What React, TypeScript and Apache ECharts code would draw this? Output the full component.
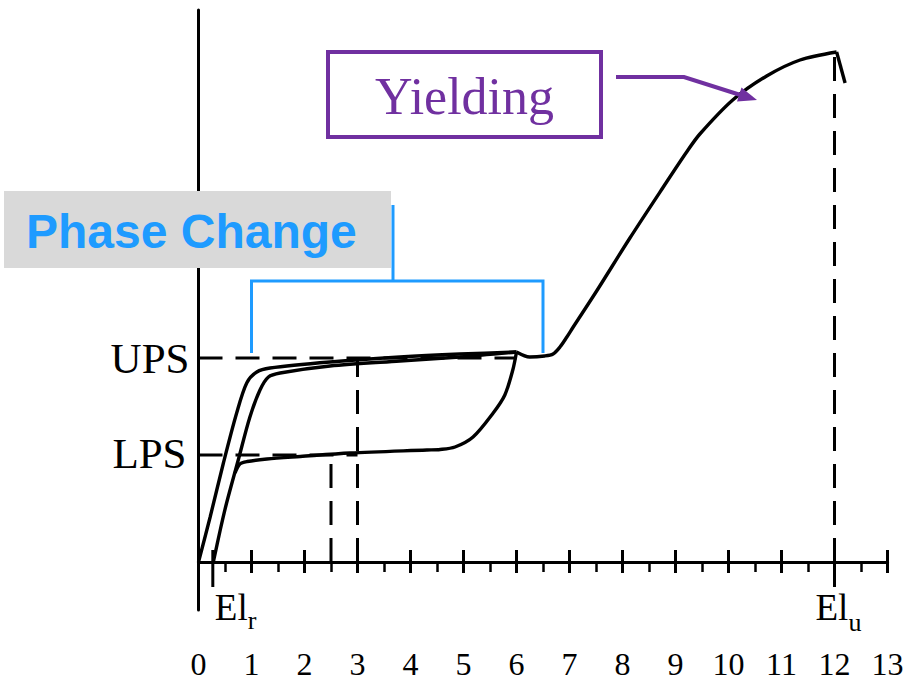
import React, { useEffect, useRef } from "react";
import * as echarts from "echarts";

// strain axis ticks (%)
const xTickValues = [0, 1, 2, 3, 4, 5, 6, 7, 8, 9, 10, 11, 12, 13];

// stress levels (arbitrary units)
const UPS = 204;
const LPS = 107;
const EL_R = 0.27;
const EL_U = 12;
const PEAK = 510;

// first loading from the origin
const firstLoading: [number, number][] = [
  [0, 0], [0.22, 45], [0.47, 99], [0.72, 149], [0.91, 179], [1.1, 190],
  [1.35, 194], [2.48, 200], [3.8, 205], [4.93, 208], [6.0, 210],
];
// reloading from the residual elongation
const secondLoading: [number, number][] = [
  [0.28, 0], [0.41, 32], [0.53, 59], [0.75, 102], [0.97, 145], [1.16, 172],
  [1.32, 185], [1.54, 189], [2.48, 196], [3.8, 201], [4.93, 205], [6.0, 210],
];
// unloading branch (lower plateau)
const unloading: [number, number][] = [
  [6.0, 210], [5.93, 192], [5.78, 167], [5.56, 149], [5.18, 125], [4.84, 115],
  [4.56, 112.5], [4.31, 112], [2.86, 109], [1.92, 105.5], [1.29, 103],
  [0.92, 100.5], [0.78, 98], [0.69, 89],
];
// martensite elastic + yielding up to rupture
const hardening: [number, number][] = [
  [6.0, 210], [6.25, 205], [6.53, 206], [6.69, 208], [6.82, 215], [6.95, 225],
  [7.07, 235], [7.5, 270], [8.14, 324], [8.77, 375], [9.21, 410], [9.46, 428],
  [10.08, 462], [10.72, 486], [11.35, 502], [12.04, PEAK],
];
const fracture: [number, number][] = [[12.04, PEAK], [12.2, 479]];

const SERIF = "'Liberation Serif', 'Times New Roman', serif";
const SANS = "'Liberation Sans', Arial, sans-serif";
const BLUE = "#1E9BFF";
const PURPLE = "#7030A0";

export default function App() {
  const ref = useRef<HTMLDivElement>(null);

  useEffect(() => {
    if (!ref.current) return;
    const chart = echarts.init(ref.current, undefined, { renderer: "svg" });

    const curve = (data: [number, number][], smooth: number | boolean = 0.3) => ({
      type: "line",
      data,
      smooth,
      symbol: "none",
      silent: true,
      xAxisIndex: 0,
      yAxisIndex: 0,
      lineStyle: { color: "#000", width: 3.4 },
      z: 3,
    });
    const dashed = (data: [number, number][]) => ({
      type: "line",
      data,
      symbol: "none",
      silent: true,
      xAxisIndex: 0,
      yAxisIndex: 0,
      lineStyle: { color: "#000", width: 3, type: [24, 13] },
      z: 2,
    });
    const solid = (data: [number, number][]) => ({
      type: "line",
      data,
      symbol: "none",
      silent: true,
      xAxisIndex: 0,
      yAxisIndex: 0,
      lineStyle: { color: "#000", width: 3 },
      z: 2,
    });

    chart.setOption({
      animation: false,
      backgroundColor: "#fff",
      grid: { left: 198.5, right: 19.5, top: 10, bottom: 72, containLabel: false, outerBoundsMode: "none" },
      xAxis: [
        {
          type: "value",
          min: 0,
          max: 13,
          interval: 1,
          axisLine: { onZero: true, lineStyle: { color: "#000", width: 3 } },
          axisTick: { show: true, length: 11, lineStyle: { color: "#000", width: 3 } },
          minorTick: { show: true, splitNumber: 2, length: 10, lineStyle: { color: "#000", width: 2.5 } },
          splitLine: { show: false },
          axisLabel: {
            show: true,
            margin: 38,
            color: "#000",
            fontFamily: SERIF,
            fontSize: 32,
            formatter: (v: number) => (xTickValues.includes(v) ? String(v) : ""),
          },
        },
        {
          type: "value",
          min: 0,
          max: 13,
          interval: 1,
          position: "bottom",
          axisLine: { show: false, onZero: true, onZeroAxisIndex: 1 },
          axisTick: { show: true, inside: true, length: 12, lineStyle: { color: "#000", width: 3 } },
          splitLine: { show: false },
          axisLabel: { show: false },
        },
      ],
      yAxis: [
        {
          type: "value",
          min: -48,
          max: 552,
          axisLine: { show: true, onZero: true, lineStyle: { color: "#000", width: 3 } },
          axisTick: { show: false },
          axisLabel: { show: false },
          splitLine: { show: false },
        },
        {
          type: "value",
          min: -48,
          max: 552,
          show: false,
          axisLine: { onZero: false },
          splitLine: { show: false },
        },
      ],
      series: [
        dashed([[0, UPS], [6, UPS]]),
        dashed([[0, LPS], [3, LPS]]),
        dashed([[3, 0], [3, 202]]),
        dashed([[2.5, 0], [2.5, LPS]]),
        dashed([[EL_U, 0], [EL_U, PEAK]]),
        solid([[EL_R, -25], [EL_R, 12]]),
        solid([[EL_U, -25], [EL_U, 0]]),
        curve(firstLoading),
        curve(secondLoading),
        curve(unloading),
        curve(hardening),
        curve(fracture, false),
      ],
    });

    const px = (v: number) => chart.convertToPixel({ xAxisIndex: 0 }, v) as number;
    const py = (v: number) => chart.convertToPixel({ yAxisIndex: 0 }, v) as number;

    const x0 = px(0);
    const elSize = 37;
    const subSize = 26;
    const elW = 0.889 * elSize;
    const xr = px(EL_R) + 2;
    const xu = px(EL_U) - 19;

    chart.setOption({
      graphic: [
        { type: "text", z: 50, x: x0 - 9, y: py(UPS), style: { text: "UPS", font: `43px ${SERIF}`, fill: "#000", align: "right", verticalAlign: "middle" } },
        { type: "text", z: 50, x: x0 - 12, y: py(LPS) - 2, style: { text: "LPS", font: `43px ${SERIF}`, fill: "#000", align: "right", verticalAlign: "middle" } },
        { type: "text", z: 50, x: xr, y: 607, style: { text: "El", font: `${elSize}px ${SERIF}`, fill: "#000", align: "left", verticalAlign: "middle" } },
        { type: "text", z: 50, x: xr + elW, y: 620, style: { text: "r", font: `${subSize}px ${SERIF}`, fill: "#000", align: "left", verticalAlign: "middle" } },
        { type: "text", z: 50, x: xu, y: 607, style: { text: "El", font: `${elSize}px ${SERIF}`, fill: "#000", align: "left", verticalAlign: "middle" } },
        { type: "text", z: 50, x: xu + elW, y: 622, style: { text: "u", font: `${subSize}px ${SERIF}`, fill: "#000", align: "left", verticalAlign: "middle" } },
        // Phase Change label
        { type: "rect", z: 60, shape: { x: 4, y: 191, width: 387, height: 77 }, style: { fill: "#D9D9D9" } },
        { type: "text", z: 61, x: 26, y: 231, style: { text: "Phase Change", font: `bold 48px ${SANS}`, fill: BLUE, align: "left", verticalAlign: "middle" } },
        { type: "polyline", z: 60, shape: { points: [[px(1), py(209)], [px(1), 281], [px(6.5), 281], [px(6.5), py(209)]] }, style: { stroke: BLUE, lineWidth: 3, fill: "none" } },
        { type: "line", z: 60, shape: { x1: 393, y1: 205, x2: 393, y2: 281 }, style: { stroke: BLUE, lineWidth: 3 } },
        // Yielding label
        { type: "rect", z: 60, shape: { x: 328, y: 52, width: 273, height: 85 }, style: { fill: "#fff", stroke: PURPLE, lineWidth: 4 } },
        { type: "text", z: 61, x: 464.5, y: 96, style: { text: "Yielding", font: `52px ${SERIF}`, fill: PURPLE, align: "center", verticalAlign: "middle" } },
        { type: "polyline", z: 60, shape: { points: [[616, 77], [684, 77], [742, 95.5]] }, style: { stroke: PURPLE, lineWidth: 4, fill: "none" } },
        { type: "polygon", z: 60, shape: { points: [[741.5, 87.5], [757, 100], [737, 101.5]] }, style: { fill: PURPLE } },
      ],
    });

    return () => chart.dispose();
  }, []);

  return (
    <div
      ref={ref}
      style={{ position: "fixed", left: 0, top: 0, width: 907, height: 682, background: "#fff" }}
    />
  );
}
